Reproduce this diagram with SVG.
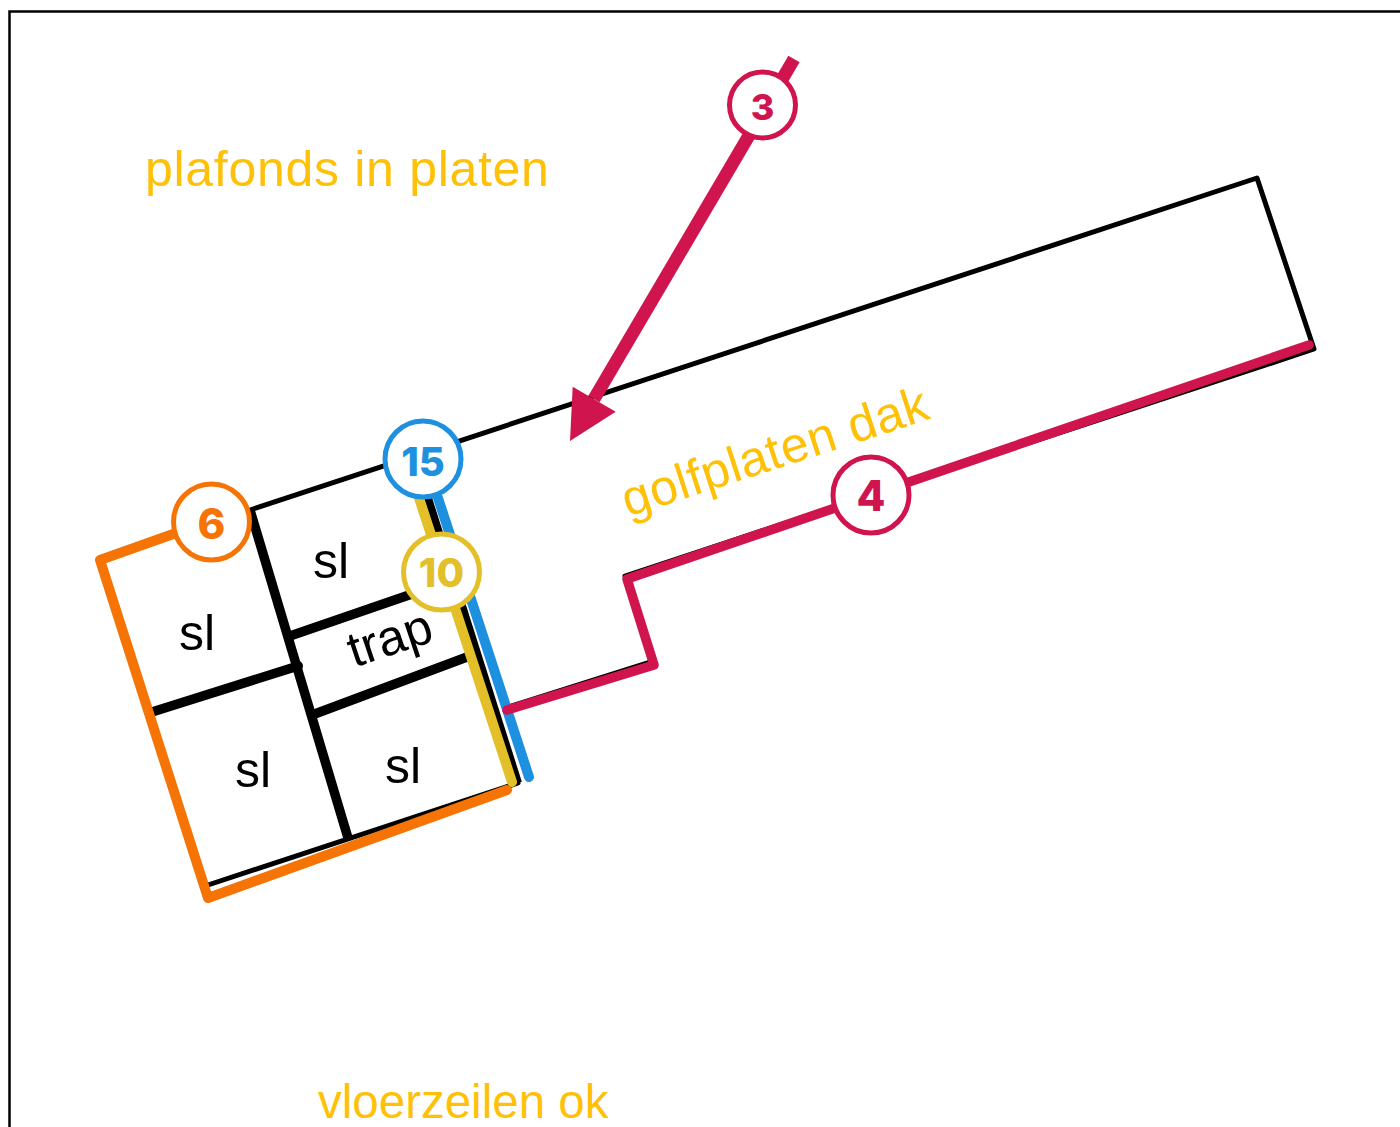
<svg xmlns="http://www.w3.org/2000/svg" width="1400" height="1127" viewBox="0 0 1400 1127">
<style>
.lbl{font-family:"Liberation Sans",Arial,sans-serif;fill:#ffc107;font-size:50px}
.sl{font-family:"Liberation Sans",Arial,sans-serif;fill:#000;font-size:50px;text-anchor:middle}
.num{font-family:Inter,"Open Sans",sans-serif;font-weight:800;text-anchor:middle}
.c{fill:#fff;stroke-width:5}
.thin{fill:none;stroke:#000;stroke-width:5;stroke-linecap:round;stroke-linejoin:round}
.thick{fill:none;stroke:#000;stroke-width:9.500}
.o{fill:none;stroke:#f57405;stroke-width:10;stroke-linecap:round;stroke-linejoin:round}
.r{fill:none;stroke:#d0144e;stroke-width:9.500;stroke-linecap:round;stroke-linejoin:round}
</style>
<rect width="1400" height="1127" fill="#fff"/>
<path d="M9.500 1127V11.500H1400" fill="none" stroke="#000" stroke-width="2.500"/>
<g id="connectors">
<path class="thin" d="M250 510L1257 178L1314 349L625 576L654 661L505 708"/>
<path class="thin" d="M208 885L518 783"/>
<path class="thick" d="M250 510L348 838M287 637L412 594M152 712L298 666M312 715L467 657"/>
<circle cx="298" cy="666" r="5" fill="#000"/>
<path d="M438 498L529 777" fill="none" stroke="#1e90e0" stroke-width="10" stroke-linecap="round"/>
<path d="M428 498L518 783" fill="none" stroke="#000" stroke-width="8"/>
<path d="M419 498L512 782" fill="none" stroke="#e3c02a" stroke-width="10" stroke-linecap="round"/>
<path class="o" d="M176 533L100 560L208 898L507 790"/>
<path class="r" d="M1309 345L909 482M835 508L627 579L654 665L507 710"/>
<path d="M794 59L594 399" fill="none" stroke="#d0144e" stroke-width="13"/>
<polygon points="570,441 572.700,386.700 615.700,411.700" fill="#d0144e"/>
</g>
<g id="label-plafonds"><text class="lbl" x="145" y="186" letter-spacing="0.700">plafonds in platen</text></g>
<g id="label-golfplaten"><text class="lbl" transform="translate(628 517) rotate(-18) " letter-spacing="0.600">golfplaten dak</text></g>
<g id="label-vloerzeilen"><text class="lbl" x="318" y="1118" style="font-size:47.500px">vloerzeilen ok</text></g>
<g id="room-sl-1"><text class="sl" x="331" y="578">sl</text></g>
<g id="room-sl-2"><text class="sl" x="197" y="650">sl</text></g>
<g id="room-sl-3"><text class="sl" x="253" y="787">sl</text></g>
<g id="room-sl-4"><text class="sl" x="403" y="783">sl</text></g>
<g id="room-trap"><text class="sl" transform="translate(395 654) rotate(-18.500)">trap</text></g>
<g id="badge-3"><circle class="c" cx="762.500" cy="105" r="33" stroke="#d0144e"/><text class="num" x="762.500" y="120" font-size="36" fill="#d0144e">3</text></g>
<g id="badge-4"><circle class="c" cx="871" cy="495" r="38" stroke="#d0144e"/><text class="num" x="871" y="511" font-size="42" fill="#d0144e">4</text></g>
<g id="badge-6"><circle class="c" cx="211.500" cy="522" r="38" stroke="#f57405"/><text class="num" x="211.500" y="539" font-size="42" fill="#f57405">6</text></g>
<g id="badge-15"><circle class="c" cx="423" cy="459" r="38" stroke="#1e90e0"/><text class="num" x="423" y="476" font-size="40" fill="#1e90e0">15</text></g>
<g id="badge-10"><circle class="c" cx="441.500" cy="572" r="38" stroke="#e3c02a"/><text class="num" x="441.500" y="587" font-size="40" fill="#e3c02a">10</text></g>
</svg>
